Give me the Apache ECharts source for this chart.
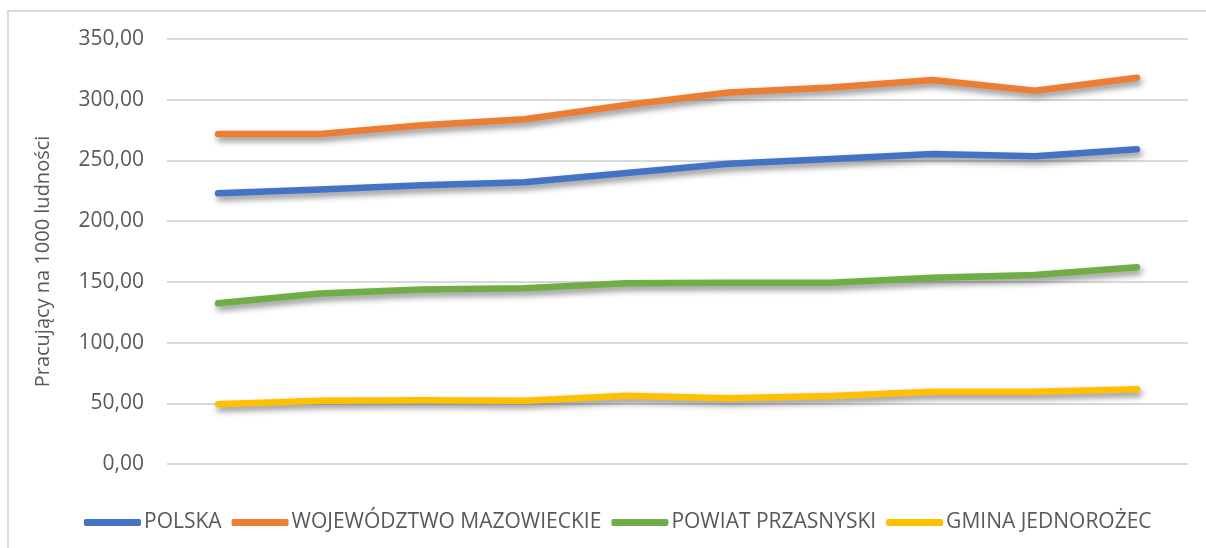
<!DOCTYPE html>
<html>
<head>
<meta charset="utf-8">
<script src="https://cdn.jsdelivr.net/npm/echarts@6/dist/echarts.min.js"></script>
<style>
  html, body { margin: 0; padding: 0; background: #fff; }
  #frame { position: absolute; left: 7px; top: 10px; width: 1210px; height: 550px;
           border-top: 2px solid #d9d9d9; border-left: 2px solid #d9d9d9; box-sizing: border-box; }
  #chart { position: absolute; left: 0; top: 0; width: 1206px; height: 548px; }
</style>
</head>
<body>
<div id="frame"></div>
<div id="chart"></div>
<script>
// dane
var kategorie = ['1', '2', '3', '4', '5', '6', '7', '8', '9', '10'];
var polska = [222.9, 226.0, 229.6, 232.0, 239.6, 247.2, 251.2, 255.3, 253.5, 259.2];
var mazowieckie = [271.8, 271.8, 279.0, 283.9, 295.6, 306.0, 310.0, 316.2, 307.4, 318.1];
var przasnyski = [132.3, 140.4, 143.8, 144.7, 148.8, 149.3, 149.3, 153.4, 155.6, 162.0];
var jednorozec = [49.2, 52.0, 52.6, 52.1, 56.2, 54.1, 56.0, 59.5, 59.5, 61.5];
var nazwy = ['POLSKA', 'WOJEWÓDZTWO MAZOWIECKIE', 'POWIAT PRZASNYSKI', 'GMINA JEDNOROŻEC'];
var kolory = ['#4472c4', '#ed7d31', '#70ad47', '#ffc000'];

var font = 'Open Sans';

var seria = function(name, data, color) {
  return {
    name: name,
    type: 'line',
    data: data,
    symbol: 'none',
    color: color,
    lineStyle: {
      width: 6.5,
      cap: 'round',
      join: 'round',
      color: color,
      shadowColor: 'rgba(0,0,0,0.45)',
      shadowBlur: 6,
      shadowOffsetX: 2,
      shadowOffsetY: 4
    }
  };
};

var myChart = echarts.init(document.getElementById('chart'));
var option = {
  animation: false,
  grid: { left: 167, right: 18, top: 39, bottom: 84 },
  legend: {
    data: nazwy,
    left: 79,
    top: 507,
    icon: 'roundRect',
    itemWidth: 57,
    itemHeight: 7,
    itemGap: 10,
    textStyle: { color: '#595959', fontFamily: font, fontSize: 21, padding: [0, 0, 0, -2] }
  },
  xAxis: {
    type: 'category',
    data: kategorie,
    boundaryGap: true,
    axisLine: { show: false },
    axisTick: { show: false },
    axisLabel: { show: false }
  },
  yAxis: {
    type: 'value',
    min: 0,
    max: 350,
    interval: 50,
    name: 'Pracujący na 1000 ludności',
    nameLocation: 'middle',
    nameGap: 114,
    nameTextStyle: { color: '#595959', fontFamily: font, fontSize: 20, padding: [0, 20, 0, 0] },
    axisLine: { show: false },
    axisTick: { show: false },
    axisLabel: {
      color: '#595959',
      fontFamily: font,
      fontSize: 21,
      margin: 23,
      formatter: function(v) { return v.toFixed(2).replace('.', ','); }
    },
    splitLine: { lineStyle: { color: '#d9d9d9', width: 2 } }
  },
  series: [
    seria(nazwy[0], polska, kolory[0]),
    seria(nazwy[1], mazowieckie, kolory[1]),
    seria(nazwy[2], przasnyski, kolory[2]),
    seria(nazwy[3], jednorozec, kolory[3])
  ]
};
myChart.setOption(option);
</script>
</body>
</html>
